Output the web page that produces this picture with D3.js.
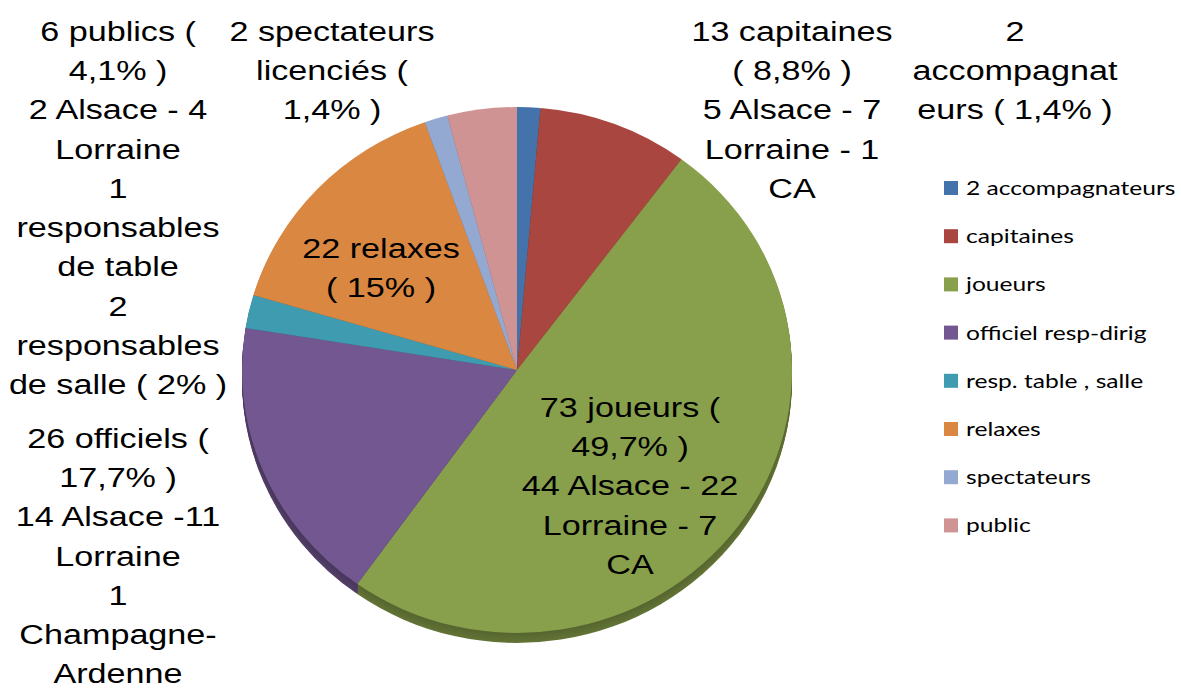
<!DOCTYPE html>
<html><head><meta charset="utf-8">
<script src="https://cdn.jsdelivr.net/npm/d3@7"></script>
<style>html,body{margin:0;padding:0;background:#fff;} svg{display:block;}</style>
</head><body>
<svg id="chart" width="1181" height="688"></svg>
<script>
const categories = ["2 accompagnateurs","capitaines","joueurs","officiel resp-dirig","resp. table , salle","relaxes","spectateurs","public"];
const values = [2,13,73,26,3,22,2,6];
const colors = ["#4472AA","#A8463F","#88A04B","#735790","#3F9BB0","#DA8741","#93A9D1","#D09393"];
const labelLines = [
  ["2","accompagnat","eurs ( 1,4% )"],
  ["13 capitaines","( 8,8% )","5 Alsace - 7","Lorraine - 1","CA"],
  ["73 joueurs (","49,7% )","44 Alsace - 22","Lorraine - 7","CA"],
  ["26 officiels (","17,7% )","14 Alsace -11","Lorraine","1","Champagne-","Ardenne"],
  ["1","responsables","de table","2","responsables","de salle ( 2% )"],
  ["22 relaxes","( 15% )"],
  ["2 spectateurs","licenciés (","1,4% )"],
  ["6 publics (","4,1% )","2 Alsace - 4","Lorraine"]
];
// label layout (center x, first baseline)
const labelPos = [[1015,41],[792,41],[630,417],[118,448],[118,198],[381,258],[332,41],[118,41]];

const svg = d3.select("#chart");
const cx = 517, cy = 370, rx = 275, ry = 263, depth = 10;
const sy = ry / rx;
const pie = d3.pie().sort(null).value(d => d)(values);
const arc = d3.arc().innerRadius(0).outerRadius(rx);

// 3D side (stacked darker layers)
const side = svg.append("g");
for (let k = depth; k >= 1; k--) {
  side.append("g")
    .attr("transform", `translate(${cx},${cy + k}) scale(1,${sy})`)
    .selectAll("path").data(pie).join("path")
    .attr("d", arc)
    .attr("fill", (d,i) => d3.color(colors[i]).darker(1.3 - k*0.04));
}
// top surface
svg.append("g")
  .attr("transform", `translate(${cx},${cy}) scale(1,${sy})`)
  .selectAll("path").data(pie).join("path")
  .attr("d", arc)
  .attr("fill", (d,i) => colors[i]);

// data labels
const sx = 1.22, lh = 39.2;
labelLines.forEach((lines, i) => {
  const g = svg.append("g")
    .attr("transform", `translate(${labelPos[i][0]},${labelPos[i][1]}) scale(${sx},1)`);
  const t = g.append("text")
    .attr("text-anchor","middle")
    .attr("font-family","'Liberation Sans', Arial, sans-serif")
    .attr("font-size", 28)
    .attr("fill","#000");
  lines.forEach((l, j) => {
    t.append("tspan").attr("x", 0).attr("y", j * lh).text(l);
  });
});

// legend
const leg = svg.append("g");
categories.forEach((c, i) => {
  const y = 188 + i * 48.2;
  leg.append("rect").attr("x", 944).attr("y", y - 7).attr("width", 14).attr("height", 14).attr("fill", colors[i]);
  leg.append("g").attr("transform", `translate(966,${y + 7}) scale(1.23,1)`)
    .append("text")
    .attr("font-family","Lato, 'Open Sans', sans-serif")
    .attr("font-size", 20)
    .attr("fill","#000")
    .text(c);
});
</script>
</body></html>
